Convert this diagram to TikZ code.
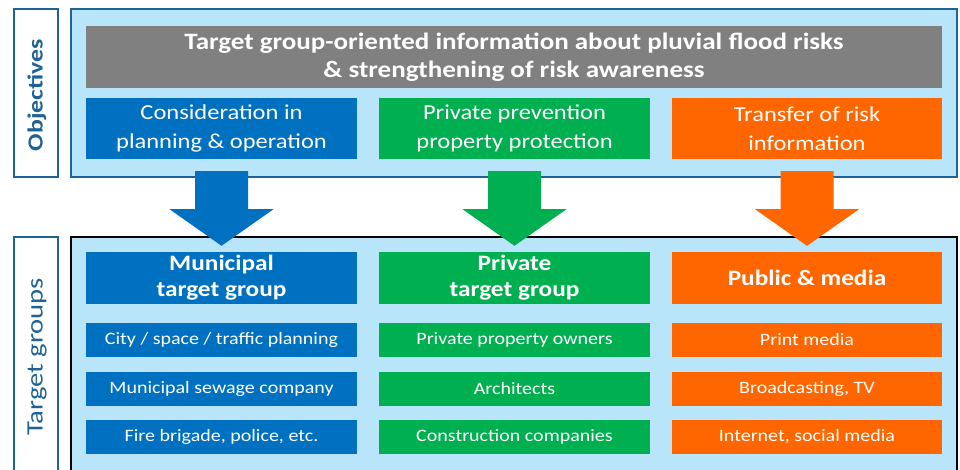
\documentclass[tikz,border=0pt]{standalone}
\usepackage{fontspec}
\setmainfont{Carlito}
\newfontfamily\widefont[FakeStretch=1.15]{Carlito}
\newfontfamily\tgfont[FakeStretch=1.22]{Carlito}
\newfontfamily\objfont[FakeStretch=1.2]{Carlito}
\usetikzlibrary{calc}
\definecolor{cblue}{HTML}{0070C0}
\definecolor{cgreen}{HTML}{00B050}
\definecolor{corange}{HTML}{FF6600}
\definecolor{cgray}{HTML}{808080}
\definecolor{clight}{HTML}{B8E5FA}
\definecolor{cdark}{HTML}{1F6396}
\tikzset{
  panel/.style={draw=cdark, line width=1.6pt, fill=clight, inner sep=0pt},
  sidelabel/.style={draw=cdark, line width=1.4pt, fill=white, inner sep=0pt},
  cbox/.style={fill=#1, inner sep=0pt, text=white, align=center},
  titletext/.style={font=\widefont\fontsize{23.5}{28}\selectfont\bfseries},
  objtext/.style={font=\widefont\fontsize{21.3}{29}\selectfont},
  headtext/.style={font=\widefont\fontsize{22}{26}\selectfont\bfseries},
  itemtext/.style={font=\widefont\fontsize{17.4}{20}\selectfont},
}
\newcommand\bigarrow[3]{%
  \fill[#1] ([shift={(-26.5,12)}]#2.south) -- ([shift={(26.5,12)}]#2.south)
    -- ([shift={(26.5,50)}]#2.south) -- ([shift={(52,50)}]#2.south)
    -- ([shift={(0,-6)}]#3.north) -- ([shift={(-52,50)}]#2.south)
    -- ([shift={(-26.5,50)}]#2.south) -- cycle;}
\begin{document}
\begin{tikzpicture}[x=1pt,y=-1pt]
\useasboundingbox (0,0) rectangle (960,470);
\begin{scope}
\clip (0,0) rectangle (960,470);
% top panel
\node[panel, minimum width=886, minimum height=168] (top) at (514,93) {};
\node[sidelabel, minimum width=44, minimum height=168] (objl) at (36,93) {};
\node[rotate=90, text=cdark, font=\objfont\fontsize{21.5}{24}\selectfont\bfseries] (objt) at (37,95) {Objectives};
\node[cbox=cgray, minimum width=856, minimum height=62, titletext] (title) at (514,57) {Target group-oriented information about pluvial flood risks\\\& strengthening of risk awareness};
\node[cbox=cblue, minimum width=271, minimum height=61, objtext] (o1) at (221.5,128.5) {Consideration in\\planning \& operation};
\node[cbox=cgreen, minimum width=271, minimum height=61, objtext] (o2) at (514.5,128.5) {Private prevention\\property protection};
\node[cbox=corange, minimum width=270, minimum height=61, objtext] (o3) at (807,128.5) {Transfer of risk\\information};
% bottom panel
\node[panel, draw=black, minimum width=886, minimum height=250] (bot) at (514,362) {};
\node[sidelabel, minimum width=44, minimum height=250] (tgl) at (36,362) {};
\node[rotate=90, text=cdark, font=\tgfont\fontsize{23.5}{26}\selectfont] (tgt) at (37,357) {Target groups};
\node[cbox=cblue, minimum width=271, minimum height=52, headtext] (g1) at (221.5,278) {Municipal\\target group};
\node[cbox=cgreen, minimum width=271, minimum height=52, headtext] (g2) at (514.5,278) {Private\\target group};
\node[cbox=corange, minimum width=270, minimum height=52, headtext] (g3) at (807,278) {Public \& media};
\node[cbox=cblue, minimum width=271, minimum height=34, itemtext] (a1) at (221.5,340) {City / space / traffic planning};
\node[cbox=cblue, minimum width=271, minimum height=34, itemtext] (a2) at (221.5,389) {Municipal sewage company};
\node[cbox=cblue, minimum width=271, minimum height=34, itemtext] (a3) at (221.5,437) {Fire brigade, police, etc.};
\node[cbox=cgreen, minimum width=271, minimum height=34, itemtext] (b1) at (514.5,340) {Private property owners};
\node[cbox=cgreen, minimum width=271, minimum height=34, itemtext] (b2) at (514.5,389) {Architects};
\node[cbox=cgreen, minimum width=271, minimum height=34, itemtext] (b3) at (514.5,437) {Construction companies};
\node[cbox=corange, minimum width=270, minimum height=34, itemtext] (c1) at (807,340) {Print media};
\node[cbox=corange, minimum width=270, minimum height=34, itemtext] (c2) at (807,389) {Broadcasting, TV};
\node[cbox=corange, minimum width=270, minimum height=34, itemtext] (c3) at (807,437) {Internet, social media};
% arrows
\bigarrow{cblue}{o1}{g1}
\bigarrow{cgreen}{o2}{g2}
\bigarrow{corange}{o3}{g3}
\end{scope}
\end{tikzpicture}
\end{document}
